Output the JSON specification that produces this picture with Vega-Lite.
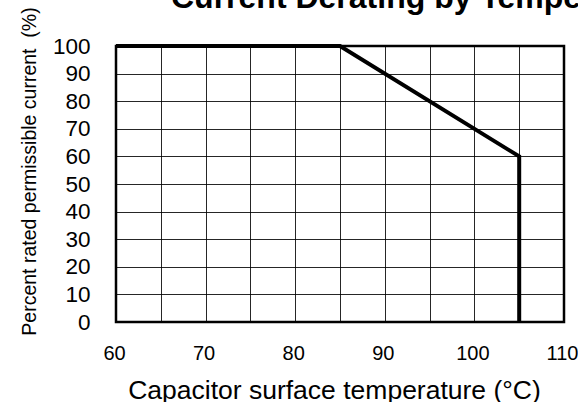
{
  "$schema": "https://vega.github.io/schema/vega-lite/v6.json",
  "autosize": {"type": "none"},
  "padding": {"left": 116, "top": 46, "right": 14, "bottom": 80},
  "width": 448,
  "height": 276,
  "background": "white",
  "title": {
    "text": "Current Derating by Temperature",
    "anchor": "start",
    "frame": "group",
    "dx": 55,
    "dy": 33,
    "offset": 0,
    "baseline": "alphabetic",
    "font": "Liberation Sans",
    "fontSize": 32,
    "fontWeight": "bold",
    "color": "black"
  },
  "config": {
    "view": {"stroke": "black", "strokeWidth": 2.5},
    "font": "Liberation Sans"
  },
  "data": {
    "values": [
      {"temp": 60, "pct": 100, "ord": 1},
      {"temp": 85, "pct": 100, "ord": 2},
      {"temp": 105, "pct": 60, "ord": 3},
      {"temp": 105, "pct": 0, "ord": 4}
    ]
  },
  "mark": {"type": "line", "color": "black", "strokeWidth": 4, "strokeJoin": "miter", "strokeCap": "butt"},
  "encoding": {
    "x": {
      "field": "temp",
      "type": "quantitative",
      "scale": {"domain": [60, 110], "nice": false, "zero": false},
      "axis": {
        "values": [60, 65, 70, 75, 80, 85, 90, 95, 100, 105, 110],
        "labelExpr": "datum.value % 10 === 0 ? datum.label : ''",
        "title": "Capacitor surface temperature (°C)",
        "titleFont": "Liberation Sans",
        "titleFontSize": 26.5,
        "titleFontWeight": "normal",
        "titleColor": "black",
        "titleX": 218,
        "titleY": 76,
        "titleAlign": "center",
        "titleBaseline": "alphabetic",
        "labelFont": "Liberation Sans",
        "labelFontSize": 20,
        "labelColor": "black",
        "labelBaseline": "alphabetic",
        "labelPadding": 37,
        "labelOffset": -2,
        "labelFlush": false,
        "labelOverlap": false,
        "ticks": false,
        "tickSize": 0,
        "domain": false,
        "grid": true,
        "gridColor": "black",
        "gridWidth": 1,
        "gridOpacity": 0.85
      }
    },
    "y": {
      "field": "pct",
      "type": "quantitative",
      "scale": {"domain": [0, 100], "nice": false},
      "axis": {
        "values": [0, 10, 20, 30, 40, 50, 60, 70, 80, 90, 100],
        "title": "Percent rated permissible current\u00a0 (%)",
        "titleFont": "Liberation Sans",
        "titleFontSize": 19.5,
        "titleFontWeight": "normal",
        "titleColor": "black",
        "titleAngle": -90,
        "titleX": -81,
        "titleY": 125,
        "titleAlign": "center",
        "titleBaseline": "alphabetic",
        "labelFont": "Liberation Sans",
        "labelFontSize": 22.5,
        "labelColor": "black",
        "labelPadding": 26,
        "labelFlush": false,
        "labelOverlap": false,
        "ticks": false,
        "tickSize": 0,
        "domain": false,
        "grid": true,
        "gridColor": "black",
        "gridWidth": 1,
        "gridOpacity": 0.85
      }
    },
    "order": {"field": "ord", "type": "quantitative"}
  }
}
